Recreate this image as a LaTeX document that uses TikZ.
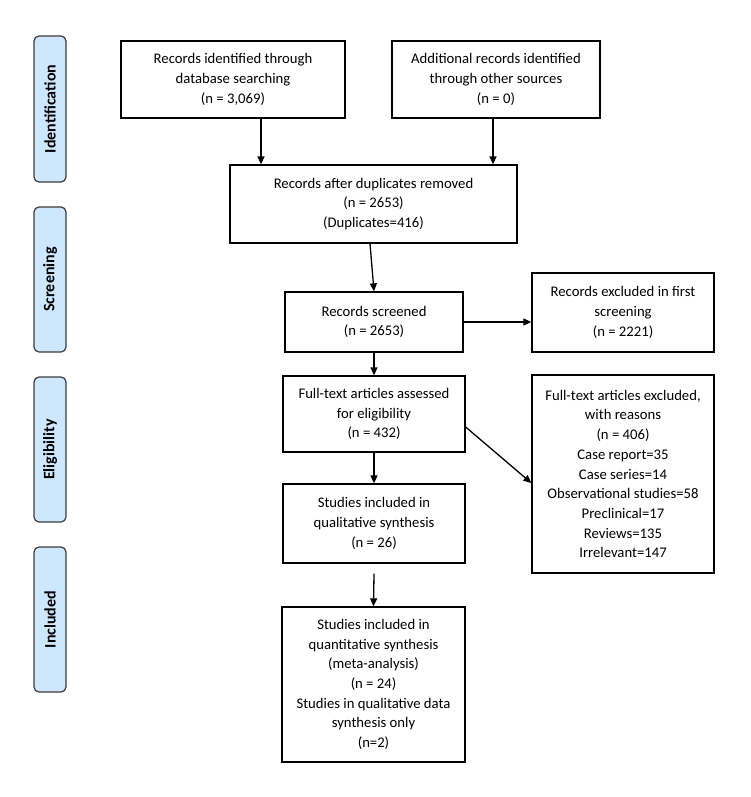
\documentclass[tikz,border=0pt]{standalone}
\usepackage{fontspec}
\setmainfont{Carlito}
\usetikzlibrary{arrows.meta}
\definecolor{sidefill}{RGB}{207,231,252}
\definecolor{sidedraw}{RGB}{60,60,60}
\newcommand\boxfont{\fontsize{14.7}{19.7}\selectfont}
\newcommand\sidefont{\fontsize{16}{19}\selectfont\bfseries}
\begin{document}
\begin{tikzpicture}[x=1pt,y=-1pt,
  box/.style={draw, line width=1.3pt, align=center, inner sep=0pt, font=\boxfont},
  side/.style={draw=sidedraw, fill=sidefill, line width=1.2pt, rounded corners=5pt, rotate=90,
    minimum width=145pt, minimum height=32pt, inner sep=0pt, font=\sidefont},
  arr/.style={line width=1.3pt, -{Triangle[length=8pt,width=7pt]}}]
\useasboundingbox (0,0) rectangle (750,797);
% side labels
\node[side, minimum width=146pt] (s1) at (50,109) {Identification};
\node[side] (s2) at (50,279.5) {Screening};
\node[side] (s3) at (50,449.5) {Eligibility};
\node[side] (s4) at (50,619.5) {Included};
% boxes
\node[box, minimum width=224pt, minimum height=77pt] (A) at (233,79.5)
  {Records identified through\\database searching\\(n = 3,069)};
\node[box, minimum width=208pt, minimum height=77pt] (B) at (496,79.5)
  {Additional records identified\\through other sources\\(n = 0)};
\node[box, minimum width=287pt, minimum height=78pt] (C) at (373.5,204)
  {Records after duplicates removed\\(n = 2653)\\(Duplicates=416)};
\node[box, minimum width=178pt, minimum height=60pt] (D) at (374,322)
  {Records screened\\(n = 2653)};
\node[box, minimum width=182pt, minimum height=79pt] (E) at (623,312.5)
  {Records excluded in first\\screening\\(n = 2221)};
\node[box, minimum width=182pt, minimum height=76pt] (F) at (374,414)
  {Full-text articles assessed\\for eligibility\\(n = 432)};
\node[box, minimum width=182pt, minimum height=198pt] (G) at (623,474)
  {Full-text articles excluded,\\with reasons\\(n = 406)\\Case report=35\\Case series=14\\Observational studies=58\\Preclinical=17\\Reviews=135\\Irrelevant=147};
\node[box, minimum width=182pt, minimum height=79pt] (H) at (374,523.5)
  {Studies included in\\qualitative synthesis\\(n = 26)};
\node[box, minimum width=183pt, minimum height=155pt] (I) at (373.5,684.5)
  {Studies included in\\quantitative synthesis\\(meta-analysis)\\(n = 24)\\Studies in qualitative data\\synthesis only\\(n=2)};
% connectors
\draw[arr] ([xshift=28pt]A.south) -- ([xshift=28pt]A.south |- C.north);
\draw[arr] ([xshift=-3pt]B.south) -- ([xshift=-3pt]B.south |- C.north);
\draw[arr] ([xshift=-3.5pt]C.south) -- (D.north);
\draw[arr] (D.east) -- (D.east -| E.west);
\draw[arr] (D.south) -- (F.north);
\draw[arr] ([yshift=-13pt]F.east) -- ([yshift=-9pt]G.west);
\draw[arr] (F.south) -- (H.north);
\draw[arr] ([yshift=-10pt]H.south) -- (I.north);
\end{tikzpicture}
\end{document}
